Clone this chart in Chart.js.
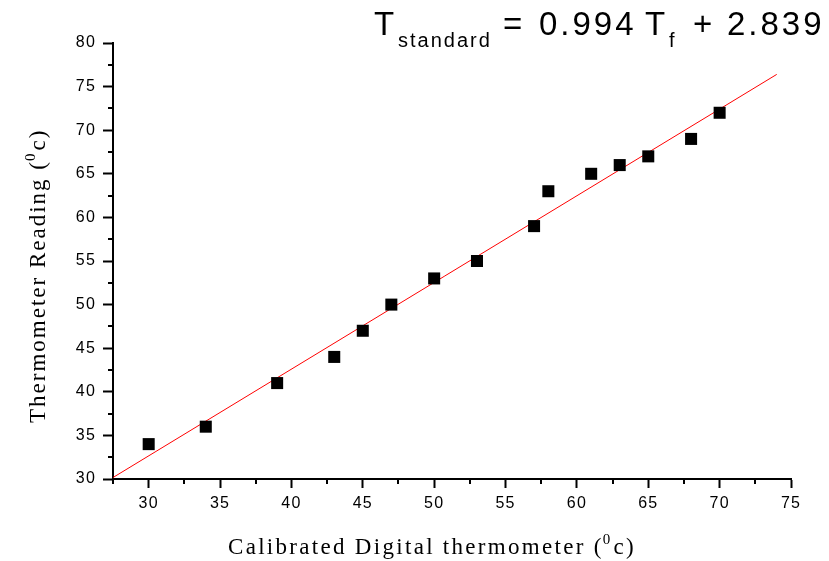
<!DOCTYPE html>
<html>
<head>
<meta charset="utf-8">
<script src="https://cdn.jsdelivr.net/npm/chart.js@4/dist/chart.umd.min.js"></script>
<style>
  html, body { margin: 0; padding: 0; background: #fff; }
  #wrap { width: 829px; height: 561px; }
</style>
</head>
<body>
<div id="wrap"><canvas id="calChart" width="829" height="561"></canvas></div>
<script>
// Calibration data: digital thermometer vs. thermometer reading
const digitalTemps = [30, 34, 39, 43, 45, 47, 50, 53, 57, 58, 61, 63, 65, 68, 70];
const thermoReadings = [34, 36, 41, 44, 47, 50, 53, 55, 59, 63, 65, 66, 67, 69, 72];

// fitted line end points
const fitX = [27.5, 74];
const fitY = [30.17, 76.4];

const xTitle = ['Calibrated Digital thermometer (', '0', 'c)'];
const yTitle = ['Thermometer Reading (', '0', 'c)'];
const eqParts = ['T', 'standard', '=', '0.994', 'T', 'f', '+', '2.839'];

const SANS = '"Liberation Sans", Arial, sans-serif';
const SERIF = '"Liberation Serif", "Times New Roman", serif';

// minor ticks + equation + axis titles with superscripts
const decorPlugin = {
    id: 'decor',
    beforeDraw(chart) {
        chart.ctx.letterSpacing = '1.2px';
    },
    afterDraw(chart) {
        const ctx = chart.ctx;
        const xs = chart.scales.x;
        const ys = chart.scales.y;
        const area = chart.chartArea;

        ctx.save();
        ctx.strokeStyle = '#000';
        ctx.lineWidth = 2;
        ctx.beginPath();
        xs.ticks.forEach(t => {
            if (t.value % 5 !== 0) {
                const px = Math.round(xs.getPixelForValue(t.value));
                ctx.moveTo(px, area.bottom);
                ctx.lineTo(px, area.bottom + 5);
            }
        });
        ys.ticks.forEach(t => {
            if (t.value % 5 !== 0) {
                const py = Math.round(ys.getPixelForValue(t.value));
                ctx.moveTo(area.left, py);
                ctx.lineTo(area.left - 5, py);
            }
        });
        ctx.stroke();

        // equation title
        ctx.fillStyle = '#000';
        ctx.textBaseline = 'alphabetic';
        ctx.textAlign = 'left';
        ctx.letterSpacing = '3px';
        ctx.font = '33px ' + SANS;
        ctx.fillText(eqParts[0], 374, 35);
        ctx.fillText(eqParts[2], 503, 35);
        ctx.fillText(eqParts[3], 539, 35);
        ctx.fillText(eqParts[4], 645, 35);
        ctx.fillText(eqParts[6], 693, 35);
        ctx.fillText(eqParts[7], 727, 35);
        ctx.letterSpacing = '2px';
        ctx.font = '20px ' + SANS;
        ctx.fillText(eqParts[1], 398, 47);
        ctx.fillText(eqParts[5], 669, 47);

        // x axis title
        ctx.letterSpacing = '2.3px';
        let x = 228;
        const base = 554;
        ctx.font = '23px ' + SERIF;
        ctx.fillText(xTitle[0], x, base);
        x += ctx.measureText(xTitle[0]).width;
        ctx.font = '15px ' + SERIF;
        ctx.fillText(xTitle[1], x - 1, base - 10);
        x += ctx.measureText(xTitle[1]).width;
        ctx.font = '23px ' + SERIF;
        ctx.fillText(xTitle[2], x, base);

        // y axis title (rotated)
        ctx.letterSpacing = '2px';
        ctx.translate(45, 423);
        ctx.rotate(-Math.PI / 2);
        let y = 0;
        ctx.fillText(yTitle[0], y, 0);
        y += ctx.measureText(yTitle[0]).width;
        ctx.font = '15px ' + SERIF;
        ctx.fillText(yTitle[1], y - 1, -10);
        y += ctx.measureText(yTitle[1]).width;
        ctx.font = '23px ' + SERIF;
        ctx.fillText(yTitle[2], y, 0);
        ctx.restore();
    }
};

const scatterPoints = digitalTemps.map((v, i) => ({ x: v, y: thermoReadings[i] }));
const fitPoints = fitX.map((v, i) => ({ x: v, y: fitY[i] }));

const majorOnly = (v) => (v % 5 === 0 ? v : '');

new Chart(document.getElementById('calChart'), {
    type: 'scatter',
    data: {
        datasets: [
            {
                label: 'Fit',
                type: 'line',
                data: fitPoints,
                borderColor: '#ff0000',
                borderWidth: 1,
                pointRadius: 0,
                fill: false,
                order: 2
            },
            {
                label: 'Readings',
                data: scatterPoints,
                pointStyle: 'rect',
                pointRadius: 8.5,
                pointHoverRadius: 8.5,
                backgroundColor: '#000',
                borderWidth: 0,
                order: 1
            }
        ]
    },
    options: {
        responsive: false,
        animation: false,
        devicePixelRatio: 1,
        layout: { padding: { top: 43, right: 38, bottom: 0, left: 0 } },
        plugins: {
            legend: { display: false },
            tooltip: { enabled: false },
            title: { display: false }
        },
        scales: {
            x: {
                type: 'linear',
                min: 27.5,
                max: 75,
                afterFit: (scale) => { scale.height = 82; },
                border: { color: '#000', width: 2 },
                grid: {
                    drawOnChartArea: false,
                    drawTicks: true,
                    tickLength: 9,
                    tickWidth: 2,
                    tickColor: (c) => (c.tick && c.tick.value % 5 === 0 ? '#000' : 'rgba(0,0,0,0)')
                },
                ticks: {
                    stepSize: 2.5,
                    autoSkip: false,
                    maxRotation: 0,
                    padding: 6,
                    color: '#000',
                    font: { family: SANS, size: 16 },
                    callback: majorOnly
                }
            },
            y: {
                type: 'linear',
                min: 30,
                max: 80,
                afterFit: (scale) => { scale.width = 113; },
                border: { color: '#000', width: 2 },
                grid: {
                    drawOnChartArea: false,
                    drawTicks: true,
                    tickLength: 10,
                    tickWidth: 2,
                    tickColor: (c) => (c.tick && c.tick.value % 5 === 0 ? '#000' : 'rgba(0,0,0,0)')
                },
                ticks: {
                    stepSize: 2.5,
                    autoSkip: false,
                    padding: 7,
                    color: '#000',
                    font: { family: SANS, size: 16 },
                    callback: majorOnly
                }
            }
        }
    },
    plugins: [decorPlugin]
});
</script>
</body>
</html>
